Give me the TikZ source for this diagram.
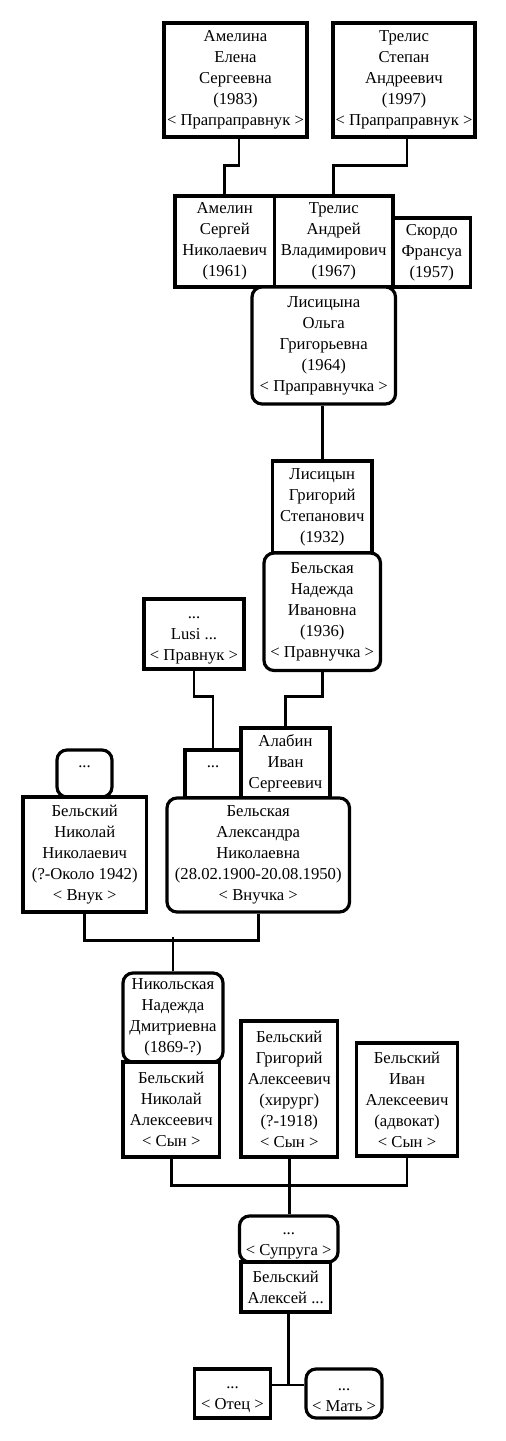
\documentclass[tikz,border=0pt]{standalone}
\usepackage{fontspec}
\setmainfont{Liberation Serif}
\usepackage{tikz}
\usetikzlibrary{calc}

\begin{document}
\begin{tikzpicture}[x=0.75pt,y=-0.75pt,font=\fontsize{12.5}{15.75}\selectfont,
   person/.style={draw,line width=2.4pt,align=center,inner sep=0pt,fill=white},
   roundperson/.style={person,rounded corners=7.5pt},
   link/.style={line width=2.2pt}]
  \useasboundingbox (0,0) rectangle (506,1441);
  \node[person,minimum width=107.25pt,minimum height=85.5pt] (amelina) at (235.5,80)
    {Амелина\\Елена\\Сергеевна\\(1983)\\< Прапраправнук >};
  \node[person,minimum width=106.5pt,minimum height=85.5pt] (trelisS) at (404,80)
    {Трелис\\Степан\\Андреевич\\(1997)\\< Прапраправнук >};
  \node[person,minimum width=74.6pt,minimum height=68.25pt] (amelin) at (224.75,241.5)
    {Амелин\\Сергей\\Николаевич\\(1961)};
  \node[person,minimum width=88.9pt,minimum height=68.25pt] (trelisA) at (333.75,241.5)
    {Трелис\\Андрей\\Владимирович\\(1967)};
  \node[person,minimum width=58.1pt,minimum height=51.75pt] (skordo) at (431.75,252.5)
    {Скордо\\Франсуа\\(1957)};
  \node[roundperson,minimum width=107.6pt,minimum height=87.75pt] (olga) at (323.75,345.5)
    {Лисицына\\Ольга\\Григорьевна\\(1964)\\< Праправнучка >};
  \node[person,minimum width=74.6pt,minimum height=69pt] (lisitsyn) at (322.25,507)
    {Лисицын\\Григорий\\Степанович\\(1932)};
  \node[roundperson,minimum width=87.4pt,minimum height=88.1pt] (nadezhda) at (322.25,611.75)
    {Бельская\\Надежда\\Ивановна\\(1936)\\< Правнучка >};
  \node[person,minimum width=75pt,minimum height=52.5pt] (lusi) at (194,634)
    {\strut...\\Lusi ...\\< Правнук >};
  \node[roundperson,minimum width=41.25pt,minimum height=35.25pt] (dotsA) at (84.5,773.5)
    {\strut...\\\strut};
  \node[person,minimum width=92.6pt,minimum height=86.25pt] (nikolayN) at (84.75,854.5)
    {Бельский\\Николай\\Николаевич\\(?-Около 1942)\\< Внук >};
  \node[person,minimum width=42pt,minimum height=36pt] (dotsB) at (213,774)
    {\strut...\\\strut};
  \node[person,minimum width=66.75pt,minimum height=52.5pt] (alabin) at (285.5,763)
    {Алабин\\Иван\\Сергеевич};
  \node[roundperson,minimum width=136.9pt,minimum height=85.5pt] (aleksandra) at (258.25,855)
    {Бельская\\Александра\\Николаевна\\(28.02.1900-20.08.1950)\\< Внучка >};
  \node[roundperson,minimum width=75pt,minimum height=66.75pt] (nikolskaya) at (173,1017.5)
    {Никольская\\Надежда\\Дмитриевна\\(1869-?)};
  \node[person,minimum width=72.4pt,minimum height=71.25pt] (nikolayA) at (171.25,1109.5)
    {Бельский\\Николай\\Алексеевич\\< Сын >};
  \node[person,minimum width=72.4pt,minimum height=102pt] (grigory) at (289.25,1089)
    {Бельский\\Григорий\\Алексеевич\\(хирург)\\(?-1918)\\< Сын >};
  \node[person,minimum width=75.75pt,minimum height=84.75pt] (ivan) at (407,1099.5)
    {Бельский\\Иван\\Алексеевич\\(адвокат)\\< Сын >};
  \node[roundperson,minimum width=73.9pt,minimum height=34.5pt] (supruga) at (288.75,1239)
    {\strut...\\< Супруга >};
  \node[person,minimum width=67.1pt,minimum height=37.5pt] (aleksey) at (285.75,1287)
    {Бельский\\Алексей ...};
  \node[person,minimum width=57pt,minimum height=36.75pt] (otets) at (232.5,1393.5)
    {\strut...\\< Отец >};
  \node[roundperson,minimum width=57pt,minimum height=36.75pt] (mat) at (344,1393.5)
    {\strut...\\< Мать >};
  \coordinate (fork) at ($(otets.east)!0.5!(mat.west)+(0,-8.5)$);
  \draw[link] ($(amelina.south)+(3.5,0)$) -- ++(0,27) -| (amelin.north);
  \draw[link] ($(trelisS.south)+(3,0)$) -- ++(0,27) -| (trelisA.north);
  \draw[link] (lisitsyn.north) -- (lisitsyn.north |- olga.south);
  \draw[link] (lusi.south) -- ++(0,26) -| (dotsB.north);
  \draw[link] (nadezhda.south) -- ++(0,24) -| (alabin.north);
  \draw[link] (nikolayN.south) -- ++(0,27) -| (aleksandra.south);
  \draw[link] (nikolskaya.north) -- ++(0,-34);
  \draw[link] (nikolayA.south) -- ++(0,27) -| (ivan.south);
  \draw[link] (grigory.south) -- (grigory.south |- supruga.north);
  \draw[link] (otets.east |- fork) -- (mat.west |- fork);
  \draw[link] (fork) -- (fork |- aleksey.south);
\end{tikzpicture}
\end{document}
